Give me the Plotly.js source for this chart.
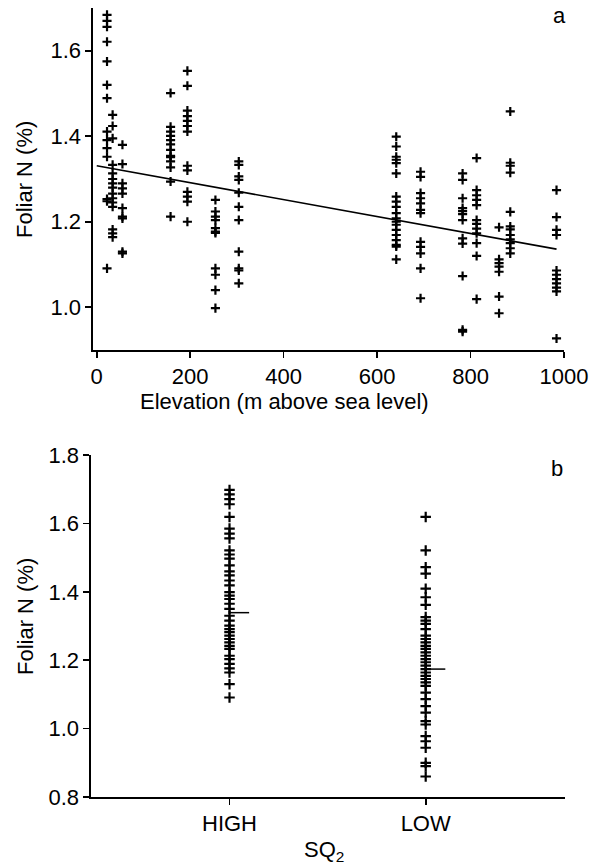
<!DOCTYPE html>
<html>
<head>
<meta charset="utf-8">
<script src="https://cdn.plot.ly/plotly-3.0.1.min.js"></script>
<style>html,body{margin:0;padding:0;background:#fff;}#chart{width:589px;height:867px;}</style>
</head>
<body>
<div id="chart"></div>
<script>
// ---- Panel a: foliar N by site elevation ----
var siteElevation = [22, 34, 55, 158, 194, 254, 304, 641, 693, 783, 813, 861, 885, 984];
var siteFoliarN = [
  [1.684, 1.670, 1.656, 1.621, 1.575, 1.520, 1.489, 1.411, 1.391, 1.372, 1.352, 1.253, 1.248, 1.091],
  [1.450, 1.424, 1.395, 1.333, 1.313, 1.300, 1.290, 1.280, 1.266, 1.255, 1.245, 1.235, 1.182, 1.173, 1.164],
  [1.380, 1.335, 1.290, 1.278, 1.266, 1.232, 1.212, 1.208, 1.130, 1.126],
  [1.501, 1.422, 1.411, 1.401, 1.391, 1.381, 1.368, 1.354, 1.351, 1.341, 1.327, 1.294, 1.212],
  [1.553, 1.518, 1.460, 1.447, 1.436, 1.424, 1.411, 1.331, 1.320, 1.270, 1.259, 1.247, 1.200],
  [1.251, 1.224, 1.212, 1.204, 1.185, 1.177, 1.174, 1.091, 1.076, 1.040, 0.998],
  [1.341, 1.333, 1.306, 1.298, 1.268, 1.235, 1.204, 1.130, 1.091, 1.086, 1.056],
  [1.399, 1.376, 1.352, 1.345, 1.337, 1.313, 1.259, 1.247, 1.235, 1.220, 1.208, 1.200, 1.193, 1.181, 1.169, 1.157, 1.146, 1.142, 1.112],
  [1.317, 1.305, 1.267, 1.255, 1.243, 1.228, 1.220, 1.153, 1.141, 1.126, 1.091, 1.021],
  [1.313, 1.298, 1.255, 1.232, 1.225, 1.218, 1.204, 1.161, 1.149, 1.073, 0.947, 0.943],
  [1.349, 1.274, 1.262, 1.251, 1.239, 1.204, 1.195, 1.184, 1.173, 1.150, 1.120, 1.019],
  [1.187, 1.112, 1.103, 1.095, 1.083, 1.025, 0.986],
  [1.458, 1.338, 1.331, 1.315, 1.223, 1.189, 1.182, 1.169, 1.159, 1.150, 1.138, 1.126],
  [1.274, 1.211, 1.181, 1.169, 1.086, 1.076, 1.066, 1.056, 1.046, 1.037, 0.927]
];
// fitted regression line (ends)
var fitElevation = [0, 984];
var fitFoliarN = [1.331, 1.136];
var elevTicks = [0, 200, 400, 600, 800, 1000];
var nTicksA = [1.0, 1.2, 1.4, 1.6];

// ---- Panel b: foliar N by SQ2 class ----
var sqCategories = ['HIGH', 'LOW'];
var highFoliarN = [1.698, 1.685, 1.671, 1.656, 1.619, 1.585, 1.570, 1.556, 1.521, 1.509, 1.497, 1.477, 1.460, 1.448, 1.433, 1.419, 1.399, 1.389, 1.379, 1.365, 1.350, 1.330, 1.316, 1.301, 1.291, 1.282, 1.272, 1.262, 1.252, 1.242, 1.233, 1.213, 1.203, 1.189, 1.176, 1.164, 1.130, 1.091];
var lowFoliarN = [1.619, 1.521, 1.472, 1.453, 1.409, 1.384, 1.362, 1.326, 1.316, 1.306, 1.291, 1.272, 1.262, 1.252, 1.242, 1.233, 1.223, 1.213, 1.203, 1.194, 1.184, 1.174, 1.164, 1.154, 1.145, 1.135, 1.125, 1.105, 1.086, 1.066, 1.047, 1.022, 1.012, 0.978, 0.963, 0.944, 0.900, 0.890, 0.860];
var classMeans = [1.339, 1.174];
var nTicksB = [0.8, 1.0, 1.2, 1.4, 1.6, 1.8];

// ---- build traces ----
var FONT = 'Liberation Sans, Arial, Helvetica, sans-serif';
var FS = 22;
var ax = [], ay = [];
siteElevation.forEach(function (e, i) {
  siteFoliarN[i].forEach(function (v) { ax.push(e); ay.push(v); });
});
var crossA = {symbol: 'cross-thin', size: 6.5, color: '#000', line: {color: '#000', width: 2.2}};
var crossB = {symbol: 'cross-thin', size: 7.5, color: '#000', line: {color: '#000', width: 2.2}};

var traces = [
  {x: ax, y: ay, type: 'scatter', mode: 'markers', marker: crossA, xaxis: 'x', yaxis: 'y', hoverinfo: 'x+y'},
  {x: fitElevation, y: fitFoliarN, type: 'scatter', mode: 'lines', line: {color: '#000', width: 1.6}, xaxis: 'x', yaxis: 'y'},
  {x: highFoliarN.map(function () { return 0; }), y: highFoliarN, type: 'scatter', mode: 'markers', marker: crossB, xaxis: 'x2', yaxis: 'y2'},
  {x: lowFoliarN.map(function () { return 1; }), y: lowFoliarN, type: 'scatter', mode: 'markers', marker: crossB, xaxis: 'x2', yaxis: 'y2'}
];
classMeans.forEach(function (m, i) {
  traces.push({x: [i, i + 0.1], y: [m, m], type: 'scatter', mode: 'lines', line: {color: '#000', width: 1.5}, xaxis: 'x2', yaxis: 'y2'});
});

var W = 589, H = 867;
function px(x) { return x / W; }
function py(y) { return 1 - y / H; }
var axisCommon = {
  showline: true, linecolor: '#000', linewidth: 1.6, ticks: 'outside', ticklen: 6, tickwidth: 1.6, tickcolor: '#000',
  showgrid: false, zeroline: false, tickfont: {family: FONT, size: FS, color: '#000'}, fixedrange: true
};
function merge(a, b) { var o = {}; for (var k in a) o[k] = a[k]; for (var k2 in b) o[k2] = b[k2]; return o; }

var layout = {
  width: W, height: H, showlegend: false,
  margin: {l: 0, r: 0, t: 0, b: 0},
  paper_bgcolor: '#fff', plot_bgcolor: '#fff',
  font: {family: FONT, size: FS, color: '#000'},
  xaxis: merge(axisCommon, {domain: [px(93), px(564)], anchor: 'y', range: [-8, 1000], tickvals: elevTicks, ticktext: elevTicks.map(String)}),
  yaxis: merge(axisCommon, {domain: [py(350), py(8)], anchor: 'x', range: [0.9, 1.7], tickvals: nTicksA, ticktext: nTicksA.map(function (v) { return v.toFixed(1); })}),
  xaxis2: merge(axisCommon, {domain: [px(91), px(565)], anchor: 'y2', range: [-0.706, 1.71], tickvals: [0, 1], ticktext: sqCategories}),
  yaxis2: merge(axisCommon, {domain: [py(797), py(455)], anchor: 'x2', range: [0.8, 1.8], tickvals: nTicksB, ticktext: nTicksB.map(function (v) { return v.toFixed(1); })}),
  annotations: [
    {text: 'Elevation (m above sea level)', x: px(284), y: py(401), xref: 'paper', yref: 'paper', xanchor: 'center', yanchor: 'middle', showarrow: false, font: {family: FONT, size: FS}},
    {text: 'Foliar N (%)', x: px(25), y: py(180), xref: 'paper', yref: 'paper', xanchor: 'center', yanchor: 'middle', textangle: -90, showarrow: false, font: {family: FONT, size: FS}},
    {text: 'Foliar N (%)', x: px(25), y: py(617), xref: 'paper', yref: 'paper', xanchor: 'center', yanchor: 'middle', textangle: -90, showarrow: false, font: {family: FONT, size: FS}},
    {text: 'SQ<sub>2</sub>', x: px(324), y: py(851), xref: 'paper', yref: 'paper', xanchor: 'center', yanchor: 'middle', showarrow: false, font: {family: FONT, size: FS}},
    {text: 'a', x: px(559), y: py(15), xref: 'paper', yref: 'paper', xanchor: 'center', yanchor: 'middle', showarrow: false, font: {family: FONT, size: FS}},
    {text: 'b', x: px(557), y: py(468), xref: 'paper', yref: 'paper', xanchor: 'center', yanchor: 'middle', showarrow: false, font: {family: FONT, size: FS}}
  ]
};
Plotly.newPlot('chart', traces, layout, {staticPlot: true, displayModeBar: false});
</script>
</body>
</html>
